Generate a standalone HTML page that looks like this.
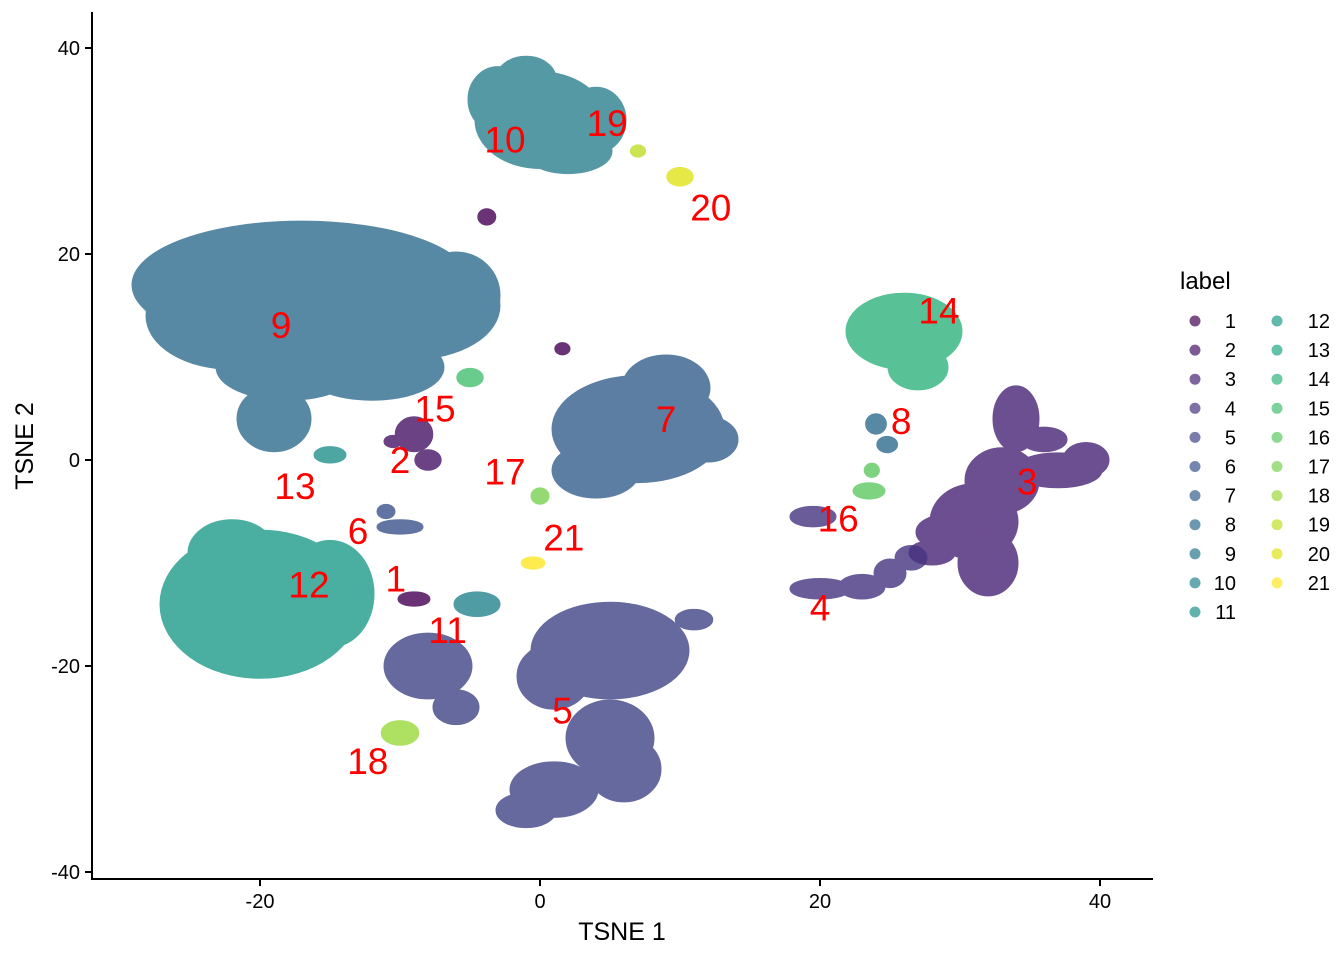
<!DOCTYPE html>
<html><head><meta charset="utf-8"><style>
body{margin:0;background:#fff;font-family:"Liberation Sans",sans-serif}
svg{display:block}
</style></head><body>
<svg id="chart" width="1344" height="960" font-family="Liberation Sans, sans-serif">
<g id="marks"></g>
<g id="axes"></g>
<g id="labels"></g>
<g id="legend"></g>
</svg>
<script>
const clusterIds=[1,2,3,4,5,6,7,8,9,10,11,12,13,14,15,16,17,18,19,20,21];
const clusterColors=["#440154","#471365","#482475","#463480","#414487","#3B528B","#355F8D","#2F6C8E","#2F6C8E","#2A808E","#25848E","#1E9C89","#21918C","#2FB47C","#44BF70","#5EC962","#7AD151","#9BD93C","#BDDF26","#DFE318","#FDE725"];
const legendColors=["#440154","#471365","#482475","#463480","#414487","#3B528B","#355F8D","#2F6C8E","#2A788E","#25848E","#21918C","#1E9C89","#22A884","#2FB47C","#44BF70","#5EC962","#7AD151","#9BD93C","#BDDF26","#DFE318","#FDE725"];
// blobs: [cx, cy, rx, ry] in data units
const blobs1=[[-9,-13.5,1,0.5],[-3.8,23.6,0.5,0.6],[1.6,10.8,0.4,0.4]];
const blobs2=[[-9,2.5,1.2,1.5],[-8,0,0.8,0.8],[-10.5,1.8,0.5,0.4]];
const blobs3=[[31,-6,3,3.5],[32,-10,2,3],[33,-2,2.5,3],[34,4,1.5,3],[37,-1,3,1.5],[39,0,1.5,1.5],[36,2,1.5,1],[29,-7,2,1.5],[28,-9,1.5,1]];
const blobs4=[[20,-12.5,2,0.8],[23,-12.3,1.5,1],[25,-11,1,1.2],[26.5,-9.5,1,1],[19.5,-5.5,1.5,0.8]];
const blobs5=[[5,-18.5,5.5,4.5],[1,-21,2.5,3],[5,-27,3,3.5],[6,-30,2.5,3],[1,-32,3,2.5],[-1,-34,2,1.5],[-8,-20,3,3],[-6,-24,1.5,1.5],[11,-15.5,1.2,0.8]];
const blobs6=[[-10,-6.5,1.5,0.5],[-11,-5,0.5,0.5]];
const blobs7=[[7,3,6,5],[4,-1,3,2.5],[9,7,3,3],[12,2,2,2]];
const blobs8=[[24,3.5,0.6,0.8],[24.8,1.5,0.6,0.6]];
const blobs9=[[-17,17,12,6],[-9,15,6,5],[-22,14,6,5],[-18,9,5,3],[-12,9,5,3],[-19,4,2.5,3],[-25,17,3,4],[-6,16,3,4]];
const blobs10=[[0,33,4.5,4.5],[-3,35,2,3],[2,30,3,2],[4,33,2,3],[-1,37,2,2]];
const blobs11=[[-4.5,-14,1.5,1]];
const blobs12=[[-20,-14,7,7],[-15,-13,3,5],[-22,-9,3,3]];
const blobs13=[[-15,0.5,1,0.6]];
const blobs14=[[26,12.5,4,3.5],[27,9,2,2]];
const blobs15=[[-5,8,0.8,0.7]];
const blobs16=[[23.5,-3,1,0.6],[23.7,-1,0.4,0.5]];
const blobs17=[[0,-3.5,0.5,0.6]];
const blobs18=[[-10,-26.5,1.2,1]];
const blobs19=[[7,30,0.4,0.4]];
const blobs20=[[10,27.5,0.8,0.7]];
const blobs21=[[-0.5,-10,0.7,0.4]];
const allBlobs=[blobs1,blobs2,blobs3,blobs4,blobs5,blobs6,blobs7,blobs8,blobs9,blobs10,blobs11,blobs12,blobs13,blobs14,blobs15,blobs16,blobs17,blobs18,blobs19,blobs20,blobs21];
const labelPos=[[-10.3,-11.5],[-10,0],[34.8,-2.1],[20,-14.3],[1.6,-24.3],[-13,-6.9],[9,4],[25.8,3.8],[-18.5,13.1],[-2.5,31.1],[-6.6,-16.5],[-16.5,-12.1],[-17.5,-2.5],[28.5,14.5],[-7.5,5],[21.3,-5.7],[-2.5,-1.1],[-12.3,-29.2],[4.8,32.7],[12.2,24.5],[1.7,-7.5]];
const xTicks=[-20,0,20,40];
const yTicks=[-40,-20,0,20,40];
const NS="http://www.w3.org/2000/svg";
const sx=v=>540+14*v, sy=v=>460-10.3*v;
function mk(tag,attrs,parent){const e=document.createElementNS(NS,tag);for(const k in attrs)e.setAttribute(k,attrs[k]);parent.appendChild(e);return e;}
const marks=document.getElementById('marks');
allBlobs.forEach((bl,i)=>{
 const g=mk('g',{opacity:0.8},marks);
 
 
 bl.forEach(b=>{
 const e=mk('ellipse',{cx:sx(b[0]),cy:sy(b[1]),rx:b[2]*14,ry:b[3]*10.3,fill:clusterColors[i],stroke:clusterColors[i],'stroke-width':5},g);
 
 
});});
const axes=document.getElementById('axes');
mk('line',{x1:92,y1:12,x2:92,y2:880,stroke:'#000','stroke-width':2},axes);
mk('line',{x1:91,y1:879,x2:1153,y2:879,stroke:'#000','stroke-width':2},axes);
xTicks.forEach(t=>{mk('line',{x1:sx(t),y1:879,x2:sx(t),y2:886,stroke:'#000','stroke-width':2},axes);
 const tx=mk('text',{x:sx(t),y:908,'font-size':20,'text-anchor':'middle',fill:'#000'},axes);tx.textContent=t;
 });
yTicks.forEach(t=>{mk('line',{x1:85,y1:sy(t),x2:92,y2:sy(t),stroke:'#000','stroke-width':2},axes);
 const tx=mk('text',{x:80,y:sy(t)+7,'font-size':20,'text-anchor':'end',fill:'#000'},axes);tx.textContent=t;
 });
const xt=mk('text',{x:622,y:940,'font-size':25,'text-anchor':'middle'},axes);xt.textContent='TSNE 1';

const yt=mk('text',{x:33,y:446,'font-size':25,'text-anchor':'middle',transform:'rotate(-90 33 446)'},axes);yt.textContent='TSNE 2';

const labels=document.getElementById('labels');
labelPos.forEach((p,i)=>{const t=mk('text',{x:sx(p[0]),y:sy(p[1])+13,'font-size':37,'text-anchor':'middle',fill:'#FF0000'},labels);t.textContent=clusterIds[i];
 });
const leg=document.getElementById('legend');
const lt=mk('text',{x:1180,y:289,'font-size':24},leg);lt.textContent='label';

clusterIds.forEach((id,i)=>{const col=i<11?0:1,row=i<11?i:i-11;const cx=col?1277:1195,cy=321+row*29.1;
 const g=mk('g',{},leg);
 mk('circle',{cx:cx,cy:cy,r:5.5,fill:legendColors[i],'fill-opacity':0.7},g);
 const t=mk('text',{x:col?1330:1236,y:cy+7,'font-size':20,'text-anchor':'end'},g);t.textContent=id;});
</script>
</body></html>
